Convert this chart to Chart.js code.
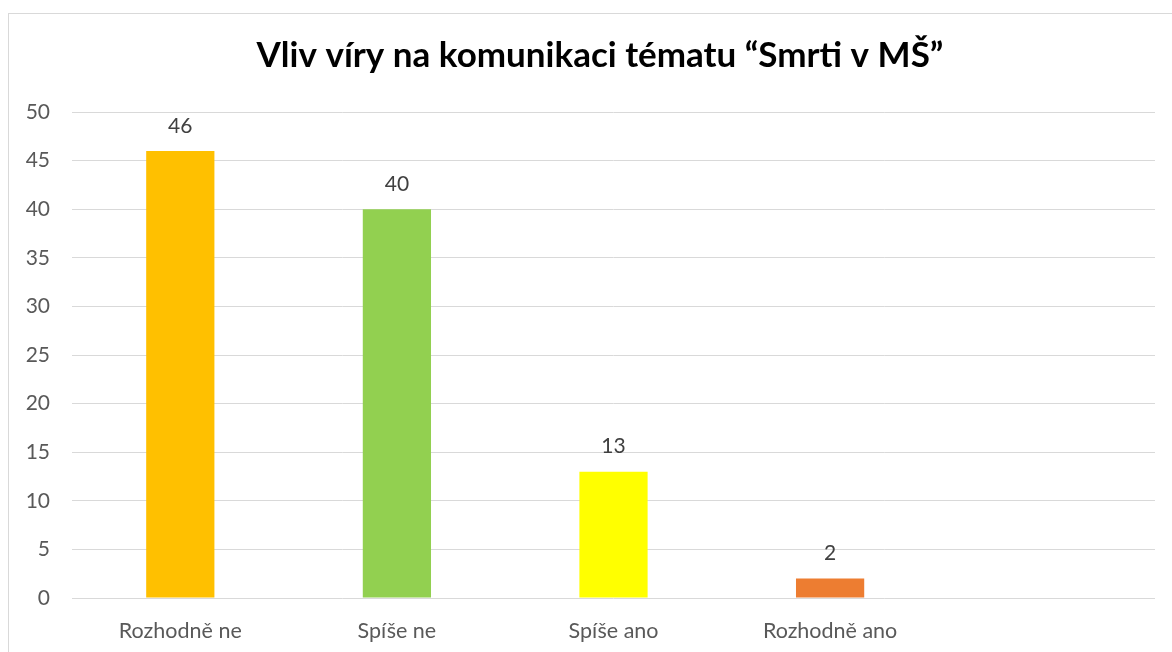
<!DOCTYPE html>
<html>
<head>
<meta charset="utf-8">
<script src="https://cdn.jsdelivr.net/npm/chart.js@4"></script>
<style>
  html, body { margin: 0; padding: 0; background: #fff; }
  #box { position: absolute; left: 0; top: 0; width: 1172px; height: 652px; overflow: hidden; }
  #frame { position: absolute; left: 8px; top: 13px; width: 1200px; height: 700px; border: 1px solid #d9d9d9; box-sizing: border-box; }
  canvas { position: absolute; left: 0; top: 0; }
</style>
</head>
<body>
<div id="box">
  <div id="frame"></div>
  <canvas id="chart" width="1172" height="652"></canvas>
</div>
<script>
const titleText = 'Vliv víry na komunikaci tématu “Smrti v MŠ”';
const categories = ['Rozhodně ne', 'Spíše ne', 'Spíše ano', 'Rozhodně ano', ''];
const values = [46, 40, 13, 2, null];
const barColors = ['#FFC000', '#92D050', '#FFFF00', '#ED7D31', '#ED7D31'];
const yTicks = [0, 5, 10, 15, 20, 25, 30, 35, 40, 45, 50];

const fontFamily = 'Lato, "Open Sans", sans-serif';

// draws the numbers above the bars
const valueLabels = {
    id: 'valueLabels',
    afterDatasetsDraw(chart) {
        const ctx = chart.ctx;
        const meta = chart.getDatasetMeta(0);
        ctx.save();
        ctx.font = '21px ' + fontFamily;
        ctx.fillStyle = '#404040';
        ctx.textAlign = 'center';
        ctx.textBaseline = 'middle';
        meta.data.forEach((bar, i) => {
            if (values[i] == null) return;
            ctx.fillText(values[i], bar.x, bar.y - 25);
        });
        ctx.restore();
    }
};

// title drawn by hand, it sits a bit right of the canvas center
const chartTitle = {
    id: 'chartTitle',
    afterDraw(chart) {
        const ctx = chart.ctx;
        ctx.save();
        ctx.font = 'bold 35px ' + fontFamily;
        ctx.fillStyle = '#000';
        ctx.textAlign = 'center';
        ctx.textBaseline = 'middle';
        ctx.fillText(titleText, 600, 56);
        ctx.restore();
    }
};

const ctx = document.getElementById('chart').getContext('2d');
const chart = new Chart(ctx, {
    type: 'bar',
    data: {
        labels: categories,
        datasets: [{
            data: values,
            backgroundColor: barColors,
            categoryPercentage: 1,
            barPercentage: 0.315
        }]
    },
    options: {
        responsive: false,
        animation: false,
        layout: { padding: { left: 0, right: 17, top: 112, bottom: 0 } },
        plugins: {
            legend: { display: false },
            tooltip: { enabled: false },
            title: { display: false }
        },
        scales: {
            x: {
                grid: { display: false, drawTicks: false },
                border: { display: false },
                ticks: { color: '#595959', font: { family: fontFamily, size: 21.5 }, padding: 20, maxRotation: 0 },
                afterFit(scale) { scale.height = 54; }
            },
            y: {
                min: 0,
                max: 50,
                afterBuildTicks(scale) { scale.ticks = yTicks.map(v => ({ value: v })); },
                grid: { color: '#d9d9d9', lineWidth: 1, drawTicks: false },
                border: { display: false },
                ticks: { color: '#595959', font: { family: fontFamily, size: 21 }, padding: 22 },
                afterFit(scale) { scale.width = 72; }
            }
        }
    },
    plugins: [valueLabels, chartTitle]
});
</script>
</body>
</html>
